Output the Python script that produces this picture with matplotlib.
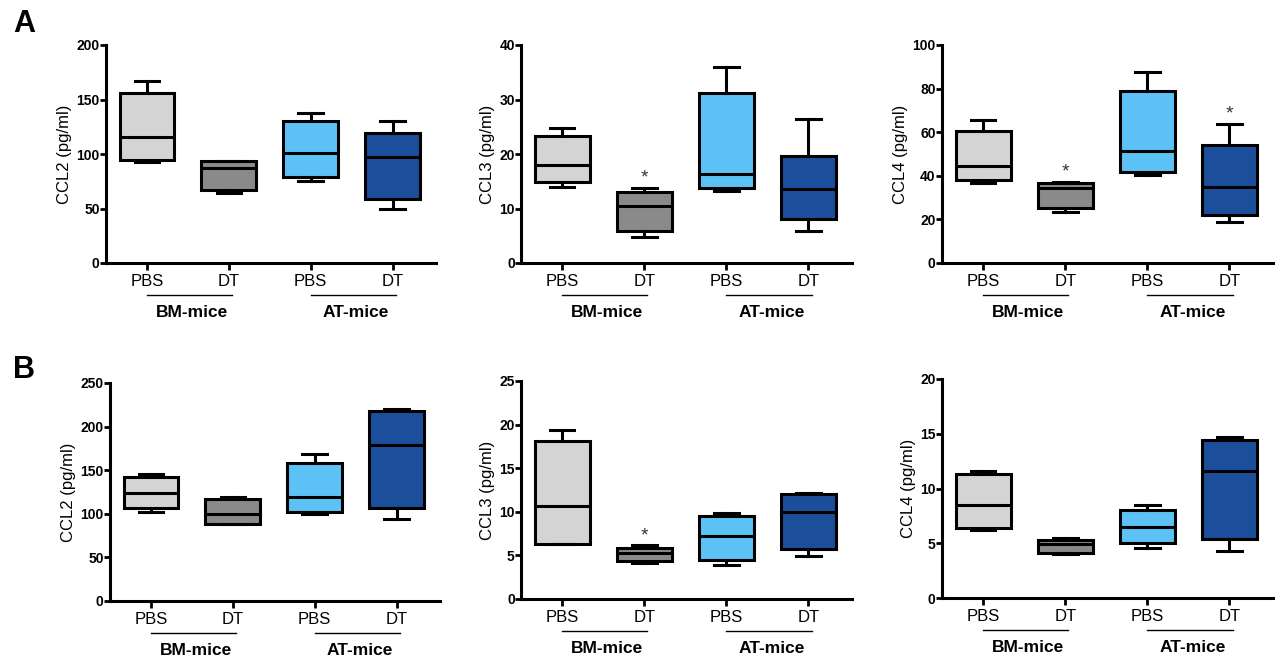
import matplotlib
matplotlib.use("Agg")
import matplotlib.pyplot as plt
import matplotlib.transforms as mtransforms

plt.rcParams['font.family'] = ['Liberation Sans', 'DejaVu Sans']

groups = ["PBS", "DT", "PBS", "DT"]
group_names = ["BM-mice", "AT-mice"]
colors = ['#d4d4d4', '#8a8a8a', '#5cc2f5', '#1b4f9c']

# box stats per panel: whisker low, q1, median, q3, whisker high (PBS-BM, DT-BM, PBS-AT, DT-AT)
a_ccl2_lo = [92.5, 64, 75, 49.5]
a_ccl2_q1 = [94.7, 67, 78.5, 58.6]
a_ccl2_med = [115.4, 87, 100.5, 97.5]
a_ccl2_q3 = [155.7, 93.7, 130, 119]
a_ccl2_hi = [167, 93.7, 138, 130]

a_ccl3_lo = [13.9, 4.7, 13.2, 5.8]
a_ccl3_q1 = [14.8, 5.9, 13.8, 8.0]
a_ccl3_med = [18.0, 10.4, 16.3, 13.5]
a_ccl3_q3 = [23.3, 13.1, 31.2, 19.6]
a_ccl3_hi = [24.8, 13.7, 35.9, 26.4]

a_ccl4_lo = [36.7, 23.4, 40.3, 19.0]
a_ccl4_q1 = [38.1, 25.1, 41.9, 22.1]
a_ccl4_med = [44.6, 34.6, 51.3, 35.0]
a_ccl4_q3 = [60.6, 36.8, 78.8, 54.3]
a_ccl4_hi = [65.8, 37.3, 87.5, 63.9]

b_ccl2_lo = [102.5, 88, 100, 93.8]
b_ccl2_q1 = [106.4, 88.4, 102.6, 106.4]
b_ccl2_med = [124.4, 99.5, 119.8, 179]
b_ccl2_q3 = [142, 117, 158, 218]
b_ccl2_hi = [145.9, 119.8, 168.5, 220]

b_ccl3_lo = [6.35, 4.15, 3.85, 4.9]
b_ccl3_q1 = [6.35, 4.35, 4.5, 5.7]
b_ccl3_med = [10.7, 5.3, 7.2, 10.0]
b_ccl3_q3 = [18.1, 5.8, 9.5, 12.0]
b_ccl3_hi = [19.4, 6.15, 9.9, 12.1]

b_ccl4_lo = [6.2, 4.0, 4.6, 4.3]
b_ccl4_q1 = [6.4, 4.1, 5.0, 5.4]
b_ccl4_med = [8.5, 4.9, 6.5, 11.6]
b_ccl4_q3 = [11.3, 5.3, 8.0, 14.4]
b_ccl4_hi = [11.6, 5.5, 8.5, 14.7]

panels = [
    ("CCL2 (pg/ml)", 200, 50, (a_ccl2_lo, a_ccl2_q1, a_ccl2_med, a_ccl2_q3, a_ccl2_hi), []),
    ("CCL3 (pg/ml)", 40, 10, (a_ccl3_lo, a_ccl3_q1, a_ccl3_med, a_ccl3_q3, a_ccl3_hi), [1]),
    ("CCL4 (pg/ml)", 100, 20, (a_ccl4_lo, a_ccl4_q1, a_ccl4_med, a_ccl4_q3, a_ccl4_hi), [1, 3]),
    ("CCL2 (pg/ml)", 250, 50, (b_ccl2_lo, b_ccl2_q1, b_ccl2_med, b_ccl2_q3, b_ccl2_hi), []),
    ("CCL3 (pg/ml)", 25, 5, (b_ccl3_lo, b_ccl3_q1, b_ccl3_med, b_ccl3_q3, b_ccl3_hi), [1]),
    ("CCL4 (pg/ml)", 20, 5, (b_ccl4_lo, b_ccl4_q1, b_ccl4_med, b_ccl4_q3, b_ccl4_hi), []),
]

W, H = 1283, 666
fig = plt.figure(figsize=(W / 100, H / 100), dpi=100)

# axes rectangles in pixels: left, top, right, bottom
rects = [(106, 45, 436, 263), (521, 45, 852, 263), (942, 45, 1273, 263),
         (110, 383, 440, 601), (521, 381, 852, 599), (942, 379, 1273, 598)]

positions = [1, 2, 3, 4]
for (ylab, ymax, step, vals, stars), (l, t, r, b) in zip(panels, rects):
    ax = fig.add_axes([l / W, 1 - b / H, (r - l) / W, (b - t) / H])
    lo, q1, med, q3, hi = vals
    stats = [dict(whislo=lo[i], q1=q1[i], med=med[i], q3=q3[i], whishi=hi[i], fliers=[])
             for i in range(4)]
    bp = ax.bxp(stats, positions=positions, widths=0.67, capwidths=0.3,
                patch_artist=True, showfliers=False,
                boxprops=dict(edgecolor='black', linewidth=2.2),
                medianprops=dict(color='black', linewidth=2.2),
                whiskerprops=dict(color='black', linewidth=2.2),
                capprops=dict(color='black', linewidth=2.2))
    for patch, c in zip(bp['boxes'], colors):
        patch.set_facecolor(c)
    for i in stars:
        ax.annotate("*", (positions[i], hi[i]), xytext=(0, 1), textcoords='offset points',
                    ha='center', va='bottom', fontsize=14, color='#333333')

    ax.set_xlim(0.5, 4.53)
    ax.set_ylim(0, ymax)
    ax.set_yticks(range(0, ymax + 1, step))
    ax.set_yticklabels([str(v) for v in range(0, ymax + 1, step)], fontsize=10, fontweight='bold')
    ax.set_xticks(positions)
    ax.set_xticklabels(groups, fontsize=12)
    ax.tick_params(axis='y', length=4, width=2, pad=0.5)
    ax.tick_params(axis='x', length=5, width=2, pad=3)
    ax.set_ylabel(ylab, fontsize=12, labelpad=3)
    for s in ['top', 'right']:
        ax.spines[s].set_visible(False)
    for s in ['left', 'bottom']:
        ax.spines[s].set_linewidth(2.2)

    trans = mtransforms.blended_transform_factory(ax.transData, ax.transAxes)
    for k, name in enumerate(group_names):
        x0, x1 = positions[2 * k], positions[2 * k + 1]
        ax.plot([x0, x1 + 0.04], [-0.147, -0.147], color='black', lw=1, transform=trans, clip_on=False)
        ax.text((x0 + x1) / 2 + 0.05, -0.225, name, transform=trans, ha='center', va='center',
                fontsize=12.5, fontweight='bold')

fig.text(24 / W, 1 - 24 / H, "A", fontsize=22, fontweight='bold', ha='center', va='center')
fig.text(24 / W, 1 - 370 / H, "B", fontsize=22, fontweight='bold', ha='center', va='center')

fig.savefig("out.png", dpi=100, facecolor='white')
